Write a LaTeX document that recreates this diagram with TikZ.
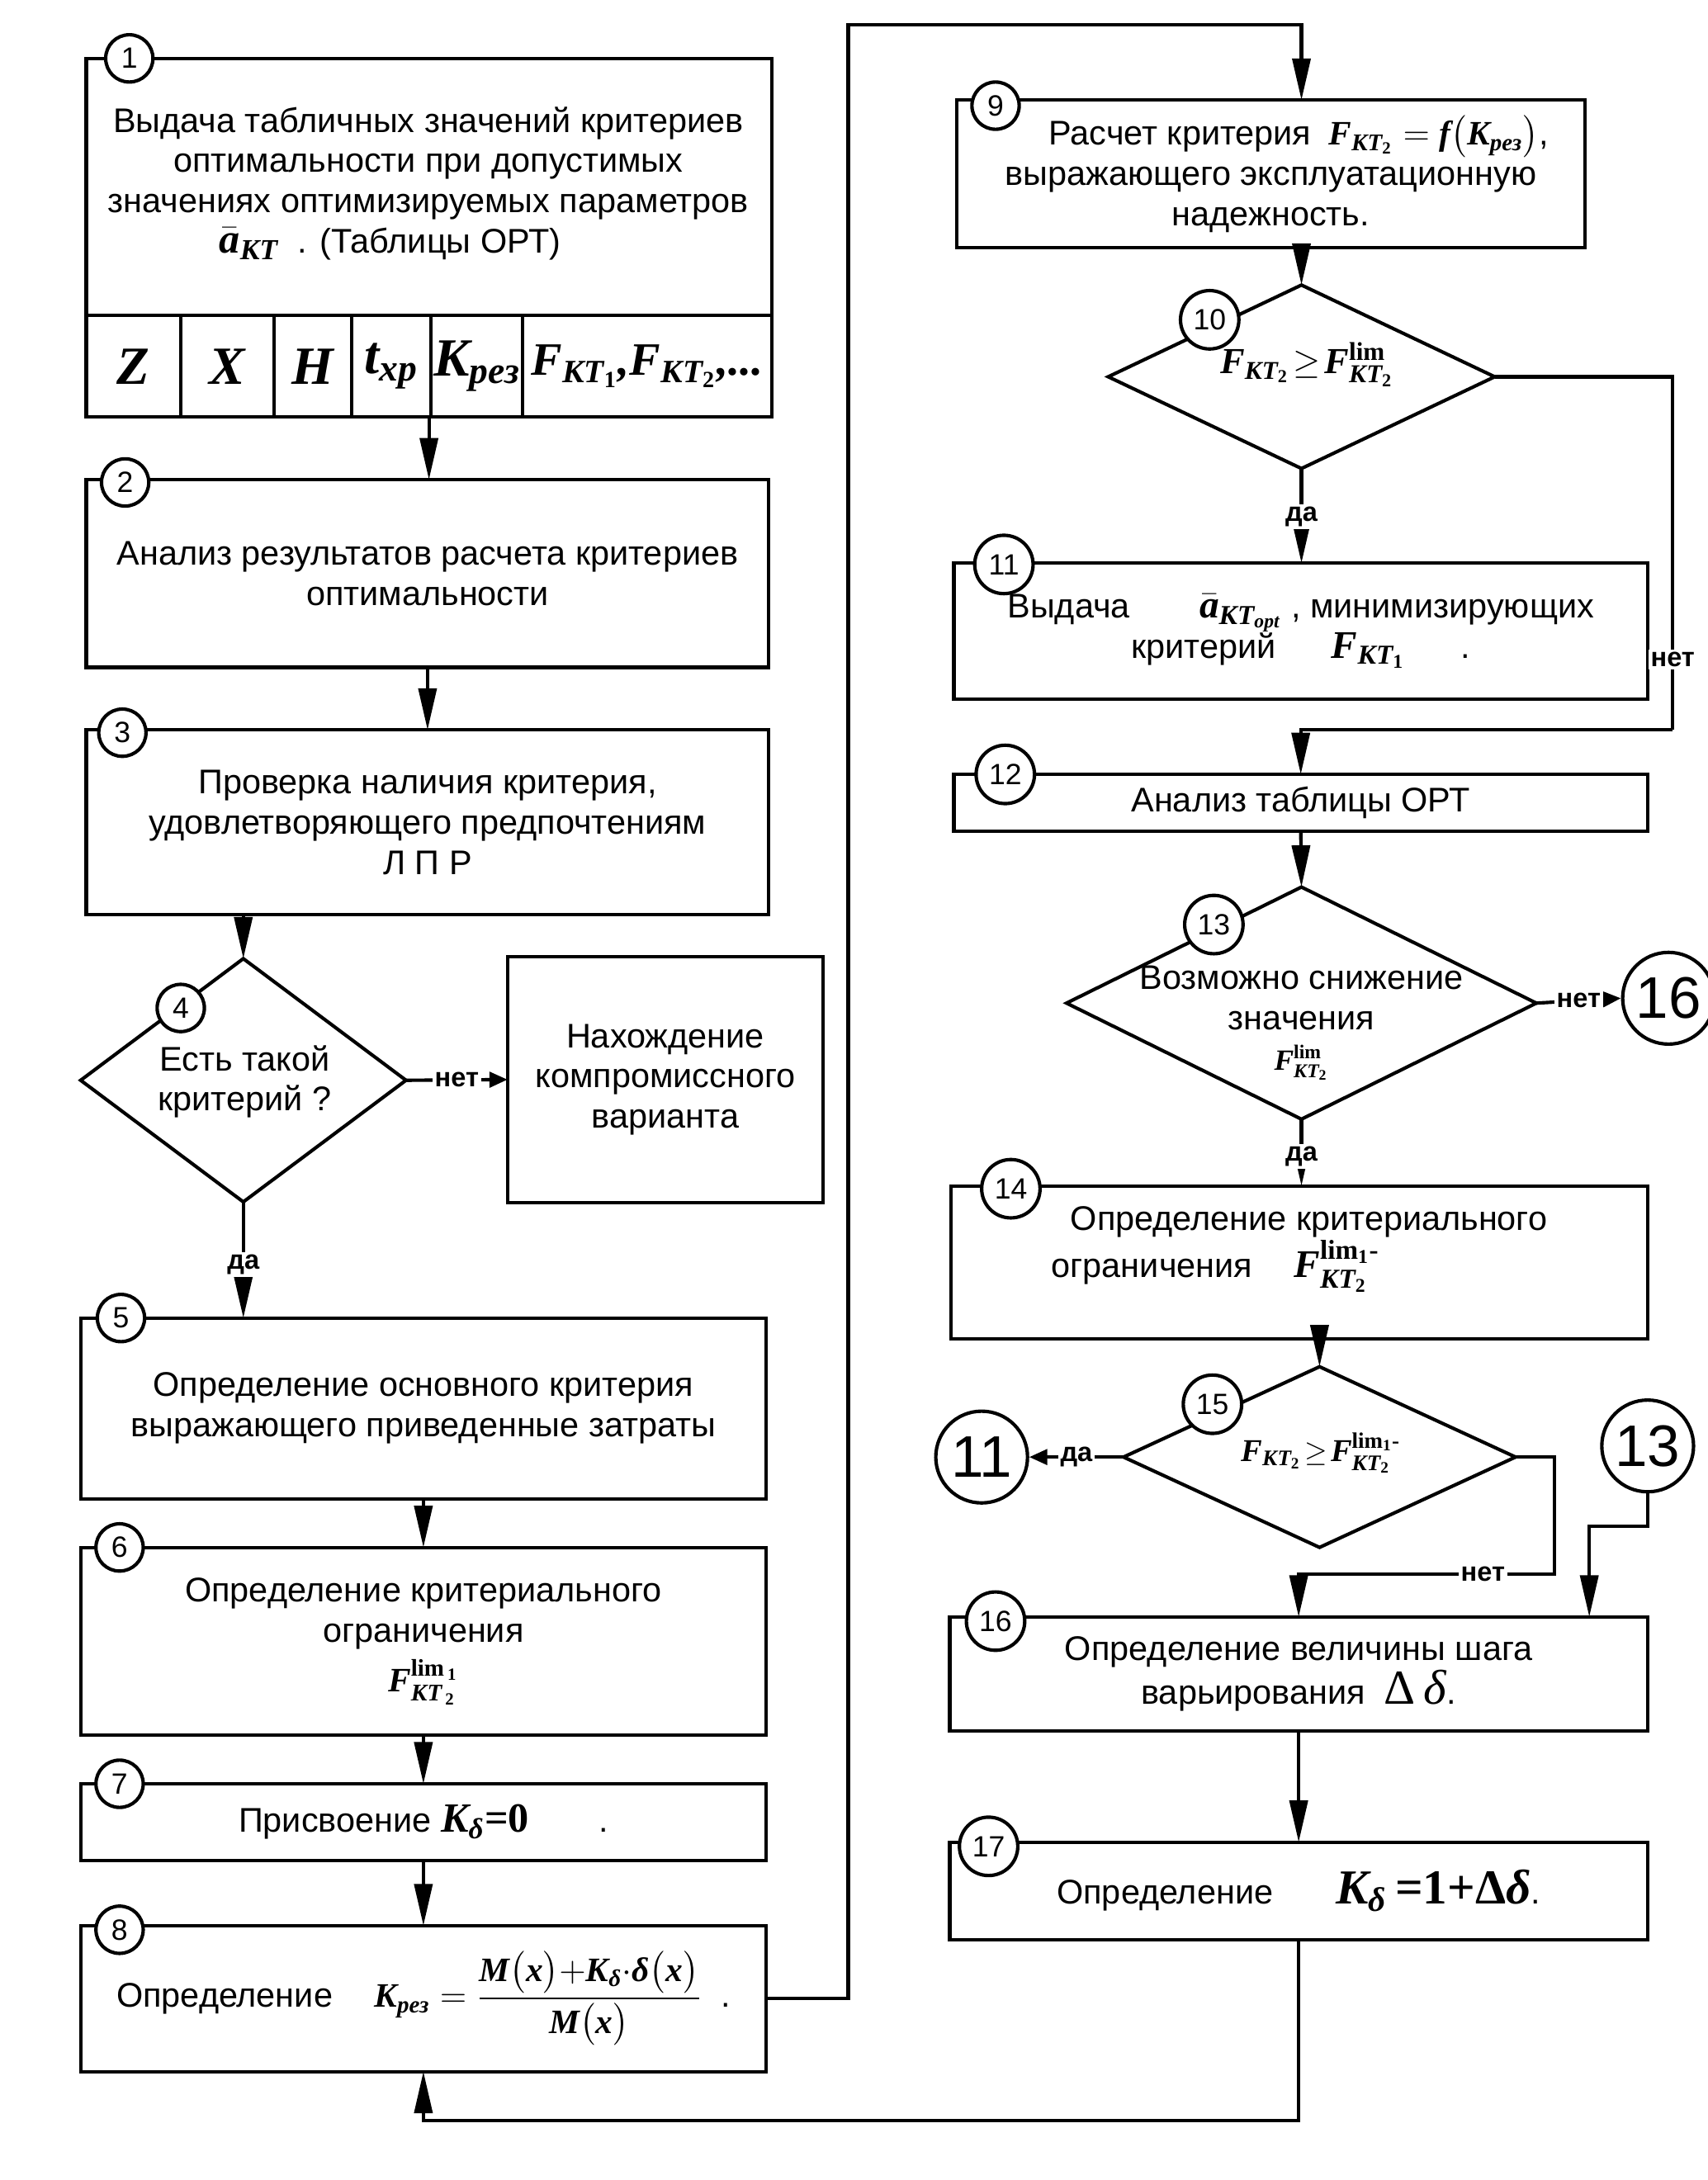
\documentclass[tikz,border=0pt]{standalone}
\usepackage{amsmath}
\usepackage{fontspec}
\setmainfont{Liberation Sans}
\newfontfamily\mfont{Liberation Serif}
\usetikzlibrary{shapes.geometric,arrows.meta}
\newcommand{\mi}[1]{\text{\mfont\bfseries\itshape #1}}
\newcommand{\mr}[1]{\text{\mfont\bfseries #1}}

\begin{document}
\begin{tikzpicture}[x=0.02cm,y=-0.02cm,
  >={Triangle[length=0.6cm,width=0.26cm]},
  every node/.style={font=\fontsize{14}{16.5}\selectfont},
  box/.style={draw,line width=1.4pt,align=center,inner sep=0pt,outer sep=0pt},
  cell/.style={draw,line width=1.4pt,inner sep=0pt,outer sep=0pt,minimum height=1.46cm,font=\fontsize{22}{26}\selectfont},
  dia/.style={diamond,draw,line width=1.4pt,inner sep=0pt,outer sep=0pt},
  num/.style={circle,draw,fill=white,line width=1.4pt,inner sep=0pt,minimum size=0.68cm,font=\fontsize{12}{14}\selectfont},
  bignum/.style={circle,draw,fill=white,line width=1.4pt,inner sep=0pt,minimum size=1.32cm,font=\fontsize{24}{28}\selectfont},
  lbl/.style={fill=white,inner sep=1pt,font=\fontsize{11}{13}\selectfont\bfseries},
  line/.style={line width=1.4pt},
  small/.style={-{Triangle[length=0.26cm,width=0.22cm]}}]
\useasboundingbox (0,0) rectangle (1228,1568);

% left column
\node[box,minimum width=9.86cm,minimum height=5.16cm] (b1) at (308.5,171) {};
\node[align=center] (t1) at (308,132) {Выдача табличных значений критериев\\оптимальности при допустимых\\значениях оптимизируемых параметров\\{\fontsize{17}{17}\selectfont$\bar{\mi{a}}_{\mi{КТ}}$}\ \ . (Таблицы ОРТ)\hspace*{1.1cm}};
\node[cell,minimum width=1.36cm] (c1) at (96,263.5) {$\mi{Z}$};
\node[cell,minimum width=1.34cm] (c2) at (163.5,263.5) {$\mi{X}$};
\node[cell,minimum width=1.12cm] (c3) at (225,263.5) {$\mi{H}$};
\node[cell,minimum width=1.14cm] (c4) at (281.5,263.5) {$\mi{t}_{\mi{хр}}$};
\node[cell,minimum width=1.32cm] (c5) at (343,263.5) {$\mi{K}_{\mi{рез}}$};
\node[cell,minimum width=3.58cm,font=\fontsize{19}{22}\selectfont] (c6) at (465.5,263.5) {$\mi{F}_{\mi{КТ}_{\mr{1}}}\mi{,}\mi{F}_{\mi{КТ}_{\mr{2}}}\mi{,...}$};

\node[box,minimum width=9.82cm,minimum height=2.7cm] (b2) at (307.5,412.5) {Анализ результатов расчета критериев\\оптимальности};
\node[box,minimum width=9.82cm,minimum height=2.66cm] (b3) at (307.5,591.5) {Проверка наличия критерия,\\удовлетворяющего предпочтениям\\Л П Р};
\node[dia,minimum width=4.68cm,minimum height=3.5cm] (d4) at (175,777) {};
\node[align=center] (t4) at (176,778) {Есть такой\\критерий ?};
\node[box,minimum width=4.54cm,minimum height=3.54cm] (bN) at (478.5,776.5) {Нахождение\\компромиссного\\варианта};
\node[box,minimum width=9.86cm,minimum height=2.6cm] (b5) at (304.5,1013) {Определение основного критерия\\выражающего приведенные затраты};
\node[box,minimum width=9.86cm,minimum height=2.7cm] (b6) at (304.5,1180.5) {Определение критериального\\ограничения\\[4pt]$\mi{F}^{\mr{lim}_{\,\mr{1}}}_{\mi{КТ}_{\,\mr{2}}}$};
\node[box,minimum width=9.86cm,minimum height=1.1cm] (b7) at (304.5,1310.5) {Присвоение {\fontsize{17}{17}\selectfont$\mi{K}_{\mi{δ}}\mr{=0}$}\hspace{1cm}.};
\node[box,minimum width=9.86cm,minimum height=2.1cm] (b8) at (304.5,1437.5) {Определение\hspace{0.6cm}$\mi{K}_{\mi{рез}}=\dfrac{\mi{M}\bigl(\mi{x}\bigr){+}\mi{K}_{\mi{δ}}{\cdot}\mi{δ}\bigl(\mi{x}\bigr)}{\mi{M}\bigl(\mi{x}\bigr)}$\ \ .};

% right column
\node[box,minimum width=9.04cm,minimum height=2.12cm] (b9) at (914,125) {\hspace*{0.8cm}Расчет критерия\hspace{0.25cm}$\mi{F}_{\mi{КТ}_{\mr{2}}}=\mi{f}\bigl(\mi{K}_{\mi{рез}}\bigr)$,\\выражающего эксплуатационную\\надежность.};
\node[dia,minimum width=5.56cm,minimum height=2.64cm] (d10) at (936,271) {};
\node (t10) at (940,262) {\fontsize{15}{15}\selectfont$\mi{F}_{\mi{КТ}_{\mr{2}}}\!\geq\!\mi{F}^{\mr{lim}}_{\mi{КТ}_{\mr{2}}}$};
\node[box,minimum width=9.98cm,minimum height=1.96cm] (b11) at (935.5,454) {Выдача\hspace{1cm}{\fontsize{16}{16}\selectfont$\bar{\mi{a}}_{\mi{КТ}_{\mi{opt}}}$} , минимизирующих\\критерий\hspace{0.8cm}{\fontsize{16}{16}\selectfont$\mi{F}_{\mi{КТ}_{\mr{1}}}$}\hspace{0.8cm}.};
\node[box,minimum width=9.98cm,minimum height=0.82cm] (b12) at (935.5,577.5) {Анализ таблицы ОРТ};
\node[dia,minimum width=6.76cm,minimum height=3.34cm] (d13) at (936,721.5) {};
\node[align=center] (t13) at (936,736) {Возможно снижение\\значения\\{\fontsize{12}{12}\selectfont$\mi{F}^{\mr{lim}}_{\mi{КТ}_{\mr{2}}}$}};
\node[bignum] (r16) at (1200,718) {16};
\node[box,align=left,minimum width=10.02cm,minimum height=2.2cm] (b14) at (934.5,908) {\ \ Определение критериального\\ограничения\hspace{0.6cm}{\fontsize{16}{16}\selectfont$\mi{F}^{\mr{lim}_{\mr{1}}\mr{-}}_{\mi{КТ}_{\mr{2}}}$}\\\mbox{}};
\node[dia,minimum width=5.64cm,minimum height=2.6cm] (d15) at (949,1048) {};
\node (t15) at (950,1045) {\fontsize{13}{13}\selectfont$\mi{F}_{\mi{КТ}_{\mr{2}}}\!\geq\!\mi{F}^{\mr{lim}_{\mr{1}}\mr{-}}_{\mi{КТ}_{\mr{2}}}$};
\node[bignum] (r11) at (706,1048) {11};
\node[bignum] (r13) at (1185,1040) {13};
\node[box,minimum width=10.04cm,minimum height=1.64cm] (b16) at (934,1204) {Определение величины шага\\варьирования\ \ {\fontsize{20}{20}\selectfont\mfont Δ\,\itshape δ}.};
\node[box,minimum width=10.04cm,minimum height=1.4cm] (b17) at (934,1360) {Определение\hspace{0.9cm}{\fontsize{20}{20}\selectfont$\mi{K}_{\mi{δ}}\mr{\,=1+Δ}\mi{δ}$}.};

% step numbers
\foreach \n/\x/\y in {1/93/42, 2/90/347, 3/88/527, 4/130/725, 5/87/948, 6/86/1113, 7/86/1283, 8/86/1388, 9/716/76}
  \node[num] (n\n) at (\x,\y) {\n};
\foreach \n/\x/\y in {10/870/230, 11/722/406, 12/723/557, 13/873/665, 14/727/855, 15/872/1010, 16/716/1166, 17/711/1328}
  \node[num,minimum size=0.84cm] (n\n) at (\x,\y) {\n};

% connectors
\coordinate (k1) at (610,18);
\coordinate (k3) at (1203,525);
\coordinate (k4) at (1118,1132);
\coordinate (k5) at (1143,1098);
\coordinate (k6) at (934,1525);
\draw[line,->] (b1.south) -- (b1.south |- b2.north);
\draw[line,->] (b2.south) -- (b3.north);
\draw[line,->] (b3.south -| d4.north) -- (d4.north);
\draw[line,small] (d4.east) -- node[lbl]{нет} (bN.west);
\draw[line,->] (d4.south) -- node[lbl,pos=0.54]{да} (d4.south |- b5.north);
\draw[line,->] (b5.south) -- (b6.north);
\draw[line,->] (b6.south) -- (b7.north);
\draw[line,->] (b7.south) -- (b8.north);
\draw[line,->] (b8.east) -| (k1) -| (b9.north -| d10.north);
\draw[line,->] (b9.south -| d10.north) -- (d10.north);
\draw[line,->] (d10.south) -- node[lbl,pos=0.51]{да} (d10.south |- b11.north);
\draw[line] (d10.east) -| node[lbl,pos=0.9]{нет} (k3);
\draw[line,->] (k3) -| (b12.north);
\draw[line,->] (b12.south) -- (d13.north);
\draw[line,small] (d13.east) -- node[lbl]{нет} (r16.west);
\draw[line,->] (d13.south) -- node[lbl,pos=0.56]{да} (d13.south |- b14.north);
\draw[line,->] (b14.south -| d15.north) -- (d15.north);
\draw[line,small] (d15.west) -- node[lbl]{да} (r11.east);
\draw[line,->] (d15.east) -| (k4) -| node[lbl,pos=0.14]{нет} (b16.north);
\draw[line,->] (r13.south) |- (k5) -- (k5 |- b16.north);
\draw[line,->] (b16.south) -- (b17.north);
\draw[line,->] (b17.south) -- (k6) -| (b8.south);
\end{tikzpicture}
\end{document}
